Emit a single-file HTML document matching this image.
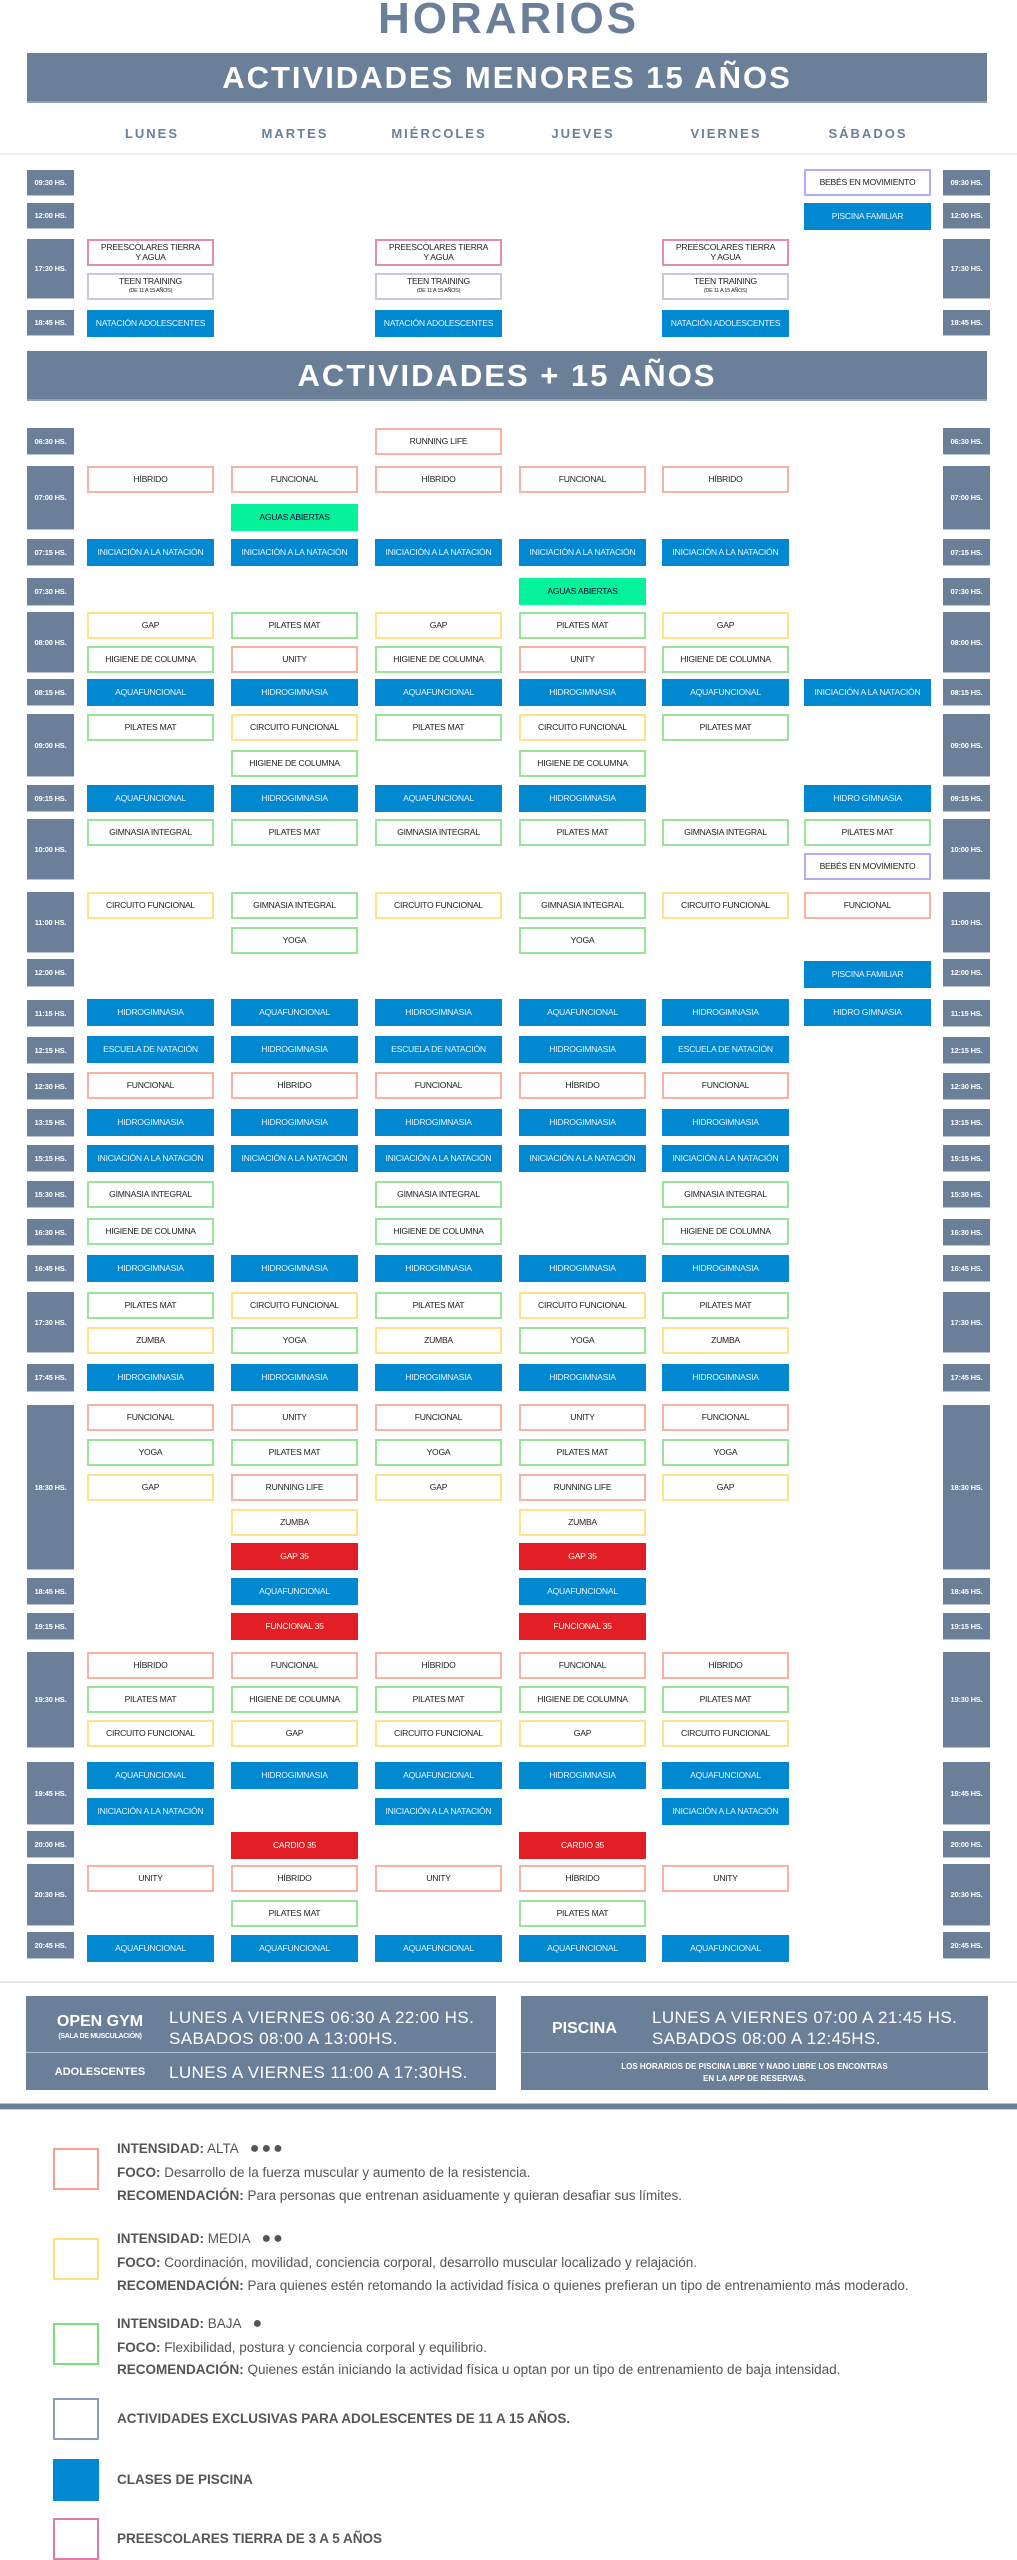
<!DOCTYPE html>
<html><head><meta charset="utf-8">
<style>
*{margin:0;padding:0;box-sizing:border-box}
body{width:1017px;height:2560px;position:relative;background:#fff;font-family:"Liberation Sans",sans-serif;overflow:hidden}
.abs{position:absolute}
.title{left:0;width:1017px;top:-6px;text-align:center;font:bold 44px "Liberation Sans",sans-serif;color:#6b7f99;letter-spacing:3px}
.banner{left:27px;width:960px;background:#6b7f99;color:#fff;text-align:center;font:bold 31px "Liberation Sans",sans-serif;letter-spacing:2px;border-bottom:2px solid #8fa0b7}
.day{top:126px;width:128px;text-align:center;font:bold 13px "Liberation Sans",sans-serif;letter-spacing:2px;color:#6b7f99}
.t{background:#6b7f99;color:#fff;width:47px;font:bold 7.5px "Liberation Sans",sans-serif;display:flex;align-items:center;justify-content:center;white-space:nowrap;letter-spacing:-0.2px;border-bottom:1px solid #b9c3d1}
.b{width:127px;height:27px;display:flex;flex-direction:column;align-items:center;justify-content:center;font-size:8.6px;letter-spacing:-0.25px;color:#222;background:#fff;border:2px solid;text-align:center;line-height:9.5px;white-space:nowrap;overflow:hidden}
.a{border-color:#f8b2a4}.m{border-color:#fde48a}.bb{border-color:#9ae49a}
.p{background:#0088d1;border-color:#0088d1;color:#e6f4ff}
.g{background:#05f29a;border-color:#05f29a;color:#103}
.r{background:#e31e26;border-color:#e31e26;color:#ffe}
.tt{border-color:#c3cbdb}.k{border-color:#e48bb2}.u{border-color:#b1acf5}
.panel{background:#6b7f99;color:#fff}
.leg{left:53px;width:46px;height:42px;border:2px solid}
.lt{left:117px;font-size:13.5px;color:#555;white-space:nowrap}
.lt b{color:#555}
.pt{color:#fff;font:17px "Liberation Sans",sans-serif;line-height:21px;white-space:nowrap;letter-spacing:0.4px}
</style></head><body>
<div class="abs title">HORARIOS</div>
<div class="abs banner" style="top:53px;height:50px;line-height:50px">ACTIVIDADES MENORES 15 AÑOS</div>
<div class="abs day" style="left:88px">LUNES</div>
<div class="abs day" style="left:231px">MARTES</div>
<div class="abs day" style="left:375px">MIÉRCOLES</div>
<div class="abs day" style="left:519px">JUEVES</div>
<div class="abs day" style="left:662px">VIERNES</div>
<div class="abs day" style="left:804px">SÁBADOS</div>
<div class="abs" style="left:0;top:153px;width:1017px;height:2px;background:#eee"></div>
<div class="abs banner" style="top:351px;height:50px;line-height:50px">ACTIVIDADES + 15 AÑOS</div>
<div id="g"></div>

<div class="abs" style="left:0;top:1981px;width:1017px;height:2px;background:#e8e8e8"></div>
<div class="abs panel" style="left:26px;top:1996px;width:470px;height:94px"></div>
<div class="abs" style="left:26px;top:2052px;width:470px;height:1px;background:#b6c1d0"></div>
<div class="abs" style="left:46px;top:2013px;width:108px;text-align:center;color:#fff;font:bold 16px 'Liberation Sans',sans-serif;white-space:nowrap">OPEN GYM</div>
<div class="abs" style="left:46px;top:2033px;width:108px;text-align:center;color:#fff;font:bold 7px 'Liberation Sans',sans-serif;white-space:nowrap;letter-spacing:-0.3px">(SALA DE MUSCULACIÓN)</div>
<div class="abs pt" style="left:169px;top:2007px">LUNES A VIERNES 06:30 A 22:00 HS.<br>SABADOS 08:00 A 13:00HS.</div>
<div class="abs" style="left:46px;top:2066px;width:108px;text-align:center;color:#fff;font:bold 11px 'Liberation Sans',sans-serif;white-space:nowrap">ADOLESCENTES</div>
<div class="abs pt" style="left:169px;top:2062px">LUNES A VIERNES 11:00 A 17:30HS.</div>
<div class="abs panel" style="left:521px;top:1996px;width:467px;height:94px"></div>
<div class="abs" style="left:521px;top:2052px;width:467px;height:1px;background:#b6c1d0"></div>
<div class="abs" style="left:552px;top:2020px;color:#fff;font:bold 16px 'Liberation Sans',sans-serif">PISCINA</div>
<div class="abs pt" style="left:652px;top:2007px">LUNES A VIERNES 07:00 A 21:45 HS.<br>SABADOS 08:00 A 12:45HS.</div>
<div class="abs" style="left:521px;top:2061px;width:467px;text-align:center;color:#fff;font:bold 8px 'Liberation Sans',sans-serif;line-height:12px">LOS HORARIOS DE PISCINA LIBRE Y NADO LIBRE LOS ENCONTRAS<br>EN LA APP DE RESERVAS.</div>
<div class="abs" style="left:0;top:2103px;width:1017px;height:7px;background:#6b7f99;border-top:1px solid #b6c1d0;border-bottom:1px solid #c8d0dc"></div>

<div class="abs leg" style="top:2148px;border-color:#f8a08e"></div>
<div class="abs lt" style="top:2140px"><b>INTENSIDAD:</b> ALTA <span style="font-size:16px;margin-left:8px;letter-spacing:2px">●●●</span></div>
<div class="abs lt" style="top:2165px"><b>FOCO:</b> Desarrollo de la fuerza muscular y aumento de la resistencia.</div>
<div class="abs lt" style="top:2188px"><b>RECOMENDACIÓN:</b> Para personas que entrenan asiduamente y quieran desafiar sus límites.</div>
<div class="abs leg" style="top:2238px;border-color:#fde07a"></div>
<div class="abs lt" style="top:2230px"><b>INTENSIDAD:</b> MEDIA <span style="font-size:16px;margin-left:8px;letter-spacing:2px">●●</span></div>
<div class="abs lt" style="top:2255px"><b>FOCO:</b> Coordinación, movilidad, conciencia corporal, desarrollo muscular localizado y relajación.</div>
<div class="abs lt" style="top:2278px"><b>RECOMENDACIÓN:</b> Para quienes estén retomando la actividad física o quienes prefieran un tipo de entrenamiento más moderado.</div>
<div class="abs leg" style="top:2323px;border-color:#7ddf7a"></div>
<div class="abs lt" style="top:2315px"><b>INTENSIDAD:</b> BAJA <span style="font-size:16px;margin-left:8px">●</span></div>
<div class="abs lt" style="top:2340px"><b>FOCO:</b> Flexibilidad, postura y conciencia corporal y equilibrio.</div>
<div class="abs lt" style="top:2362px"><b>RECOMENDACIÓN:</b> Quienes están iniciando la actividad física u optan por un tipo de entrenamiento de baja intensidad.</div>
<div class="abs leg" style="top:2398px;border-color:#8a9cb8"></div>
<div class="abs lt" style="top:2411px"><b>ACTIVIDADES EXCLUSIVAS PARA ADOLESCENTES DE 11 A 15 AÑOS.</b></div>
<div class="abs leg" style="top:2459px;border-color:#0088d1;background:#0088d1"></div>
<div class="abs lt" style="top:2472px"><b>CLASES DE PISCINA</b></div>
<div class="abs leg" style="top:2518px;border-color:#e07aa8"></div>
<div class="abs lt" style="top:2531px"><b>PREESCOLARES TIERRA DE 3 A 5 AÑOS</b></div>

<script>
var X=[87,231,375,519,662,804];
var T=[["09:30",170,196],["12:00",203,229],["17:30",239,299],["18:45",310,336],
["06:30",428,455],["07:00",466,530],["07:15",539,566],["07:30",578,606],["08:00",612,673],["08:15",679,706],["09:00",714,777],["09:15",785,812],["10:00",819,880],["11:00",892,953],["12:00",959,987],["11:15",1000,1027],["12:15",1037,1064],["12:30",1073,1100],["13:15",1109,1137],["15:15",1145,1172],["15:30",1181,1208],["16:30",1219,1246],["16:45",1255,1282],["17:30",1292,1353],["17:45",1364,1392],["18:30",1405,1570],["18:45",1578,1605],["19:15",1613,1640],["19:30",1652,1748],["19:45",1762,1825],["20:00",1831,1858],["20:30",1864,1926],["20:45",1932,1959]];
var HI="a|HÍBRIDO",FU="a|FUNCIONAL",UN="a|UNITY",RL="a|RUNNING LIFE",GA="m|GAP",CF="m|CIRCUITO FUNCIONAL",ZU="m|ZUMBA",PM="bb|PILATES MAT",HC="bb|HIGIENE DE COLUMNA",GI="bb|GIMNASIA INTEGRAL",YO="bb|YOGA",IN="p|INICIACIÓN A LA NATACIÓN",AQ="p|AQUAFUNCIONAL",HG="p|HIDROGIMNASIA",ES="p|ESCUELA DE NATACIÓN",AG="g|AGUAS ABIERTAS",_=0;
var TT="tt|TEEN TRAINING<br><span style='font-size:5.5px'>(DE 11 A 15 AÑOS)</span>",PR="k|PREESCOLARES TIERRA<br>Y AGUA",NA="p|NATACIÓN ADOLESCENTES";
var R=[
[169,[_,_,_,_,_,"u|BEBÉS EN MOVIMIENTO"]],
[203,[_,_,_,_,_,"p|PISCINA FAMILIAR"]],
[239,[PR,_,PR,_,PR]],
[273,[TT,_,TT,_,TT]],
[310,[NA,_,NA,_,NA]],
[428,[_,_,RL]],
[466,[HI,FU,HI,FU,HI]],
[504,[_,AG]],
[539,[IN,IN,IN,IN,IN]],
[578,[_,_,_,AG]],
[612,[GA,PM,GA,PM,GA]],
[646,[HC,UN,HC,UN,HC]],
[679,[AQ,HG,AQ,HG,AQ,IN]],
[714,[PM,CF,PM,CF,PM]],
[750,[_,HC,_,HC]],
[785,[AQ,HG,AQ,HG,_,"p|HIDRO GIMNASIA"]],
[819,[GI,PM,GI,PM,GI,PM]],
[853,[_,_,_,_,_,"u|BEBÉS EN MOVIMIENTO"]],
[892,[CF,GI,CF,GI,CF,FU]],
[927,[_,YO,_,YO]],
[961,[_,_,_,_,_,"p|PISCINA FAMILIAR"]],
[999,[HG,AQ,HG,AQ,HG,"p|HIDRO GIMNASIA"]],
[1036,[ES,HG,ES,HG,ES]],
[1072,[FU,HI,FU,HI,FU]],
[1109,[HG,HG,HG,HG,HG]],
[1145,[IN,IN,IN,IN,IN]],
[1181,[GI,_,GI,_,GI]],
[1218,[HC,_,HC,_,HC]],
[1255,[HG,HG,HG,HG,HG]],
[1292,[PM,CF,PM,CF,PM]],
[1327,[ZU,YO,ZU,YO,ZU]],
[1364,[HG,HG,HG,HG,HG]],
[1404,[FU,UN,FU,UN,FU]],
[1439,[YO,PM,YO,PM,YO]],
[1474,[GA,RL,GA,RL,GA]],
[1509,[_,ZU,_,ZU]],
[1543,[_,"r|GAP 35",_,"r|GAP 35"]],
[1578,[_,AQ,_,AQ]],
[1613,[_,"r|FUNCIONAL 35",_,"r|FUNCIONAL 35"]],
[1652,[HI,FU,HI,FU,HI]],
[1686,[PM,HC,PM,HC,PM]],
[1720,[CF,GA,CF,GA,CF]],
[1762,[AQ,HG,AQ,HG,AQ]],
[1798,[IN,_,IN,_,IN]],
[1832,[_,"r|CARDIO 35",_,"r|CARDIO 35"]],
[1865,[UN,HI,UN,HI,UN]],
[1900,[_,PM,_,PM]],
[1935,[AQ,AQ,AQ,AQ,AQ]]];
var h="";
T.forEach(function(t){[27,943].forEach(function(x){h+='<div class="abs t" style="left:'+x+'px;top:'+t[1]+'px;height:'+(t[2]-t[1])+'px">'+t[0]+' HS.</div>';});});
R.forEach(function(r){r[1].forEach(function(c,i){if(!c)return;var s=c.split("|");h+='<div class="abs b '+s[0]+'" style="left:'+X[i]+'px;top:'+r[0]+'px">'+s[1]+'</div>';});});
document.getElementById("g").innerHTML=h;
</script>
</body></html>
